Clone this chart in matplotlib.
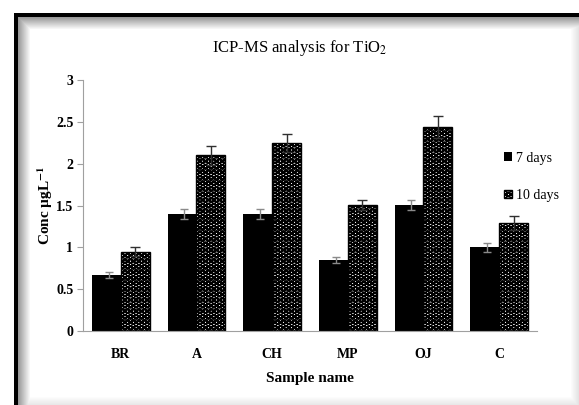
import numpy as np
import matplotlib.pyplot as plt

# values
samples = ["BR", "A", "CH", "MP", "OJ", "C"]
days7 = [0.67, 1.40, 1.40, 0.85, 1.51, 1.00]
days10 = [0.95, 2.10, 2.25, 1.51, 2.44, 1.29]
err7 = [0.04, 0.06, 0.06, 0.04, 0.06, 0.05]
err10 = [0.05, 0.11, 0.11, 0.06, 0.13, 0.08]
yticks = [0, 0.5, 1, 1.5, 2, 2.5, 3]
ytick_labels = ["0", "0.5", "1", "1.5", "2", "2.5", "3"]

plt.rcParams['font.family'] = ['Liberation Serif', 'DejaVu Serif']
plt.rcParams['mathtext.fontset'] = 'stix'
plt.rcParams['hatch.linewidth'] = 1.4

W, H = 579, 405
fig = plt.figure(figsize=(W / 100, H / 100), dpi=100)

# picture frame with a soft inner shadow on the left and top
cols = np.arange(W)[None, :].repeat(H, 0)
rows = np.arange(H)[:, None].repeat(W, 1)
left = np.where((cols >= 14) & (cols < 18), 1.0,
                np.where((cols >= 18) & (cols < 30), 0.4 * (1 - (cols - 18) / 12), 0))
top = np.where((rows >= 13) & (rows < 17), 1.0,
               np.where((rows >= 17) & (rows < 29), 0.4 * (1 - (rows - 17) / 12), 0))
right = np.where(cols >= 570, 0.12 * (cols - 570) / 9, 0)
bottom = np.where(rows >= 396, 0.10 * (rows - 396) / 9, 0)
shade = np.maximum.reduce([left * (rows >= 13), top * (cols >= 14), right, bottom])
shade[(cols < 14) | (rows < 13)] = 0
img = np.dstack([1 - shade] * 3)
fig.figimage(img, 0, 0, origin='upper', zorder=0)

ax = fig.add_axes([83 / W, 1 - 331 / H, 454 / W, 251 / H])
ax.set_zorder(5)
x = np.arange(len(samples))
w = 0.38
ax.bar(x - w / 2, days7, w, color='black', label='7 days', zorder=2)
ax.bar(x + w / 2, days10, w, color='white', edgecolor='black', hatch='OOO',
       linewidth=1, label='10 days', zorder=2)
ax.errorbar(x - w / 2 + 0.03, days7, yerr=err7, fmt='none', ecolor='#8a8a8a',
            elinewidth=1, capsize=3, zorder=3)
ax.errorbar(x + w / 2, days10, yerr=err10, fmt='none', ecolor='#303030',
            elinewidth=1, capsize=3.5, zorder=3)

ax.set_xlim(-0.5, len(samples) - 0.5)
ax.set_ylim(0, 3)
ax.set_yticks(yticks)
ax.set_yticklabels(ytick_labels, fontweight='bold', fontsize=10)
ax.set_xticks(x)
ax.set_xticklabels(samples, fontweight='bold', fontsize=10)
ax.tick_params(axis='x', length=0, pad=12)
ax.tick_params(axis='y', length=4, color='#a0a0a0', pad=3)
for s in ['top', 'right']:
    ax.spines[s].set_visible(False)
for s in ['left', 'bottom']:
    ax.spines[s].set_color('#a0a0a0')
ax.patch.set_alpha(0)

ax.set_xlabel("Sample name", fontweight='bold', fontsize=11, labelpad=8)
ax.set_ylabel(r"Conc µgL$\mathbf{^{-1}}$", fontweight='bold', fontsize=11, labelpad=1)

fig.text(0.518, 1 - 48 / H, r"ICP-MS analysis for TiO$_2$", ha='center', va='center',
         fontsize=12)

handles, labels = ax.get_legend_handles_labels()
fig.legend(handles, labels, loc='upper left', bbox_to_anchor=(498 / W, 1 - 146 / H),
           frameon=False, fontsize=10, handlelength=0.6, handleheight=0.6,
           handletextpad=0.3, labelspacing=1.75, borderaxespad=0)

fig.savefig("out.png", dpi=100)
